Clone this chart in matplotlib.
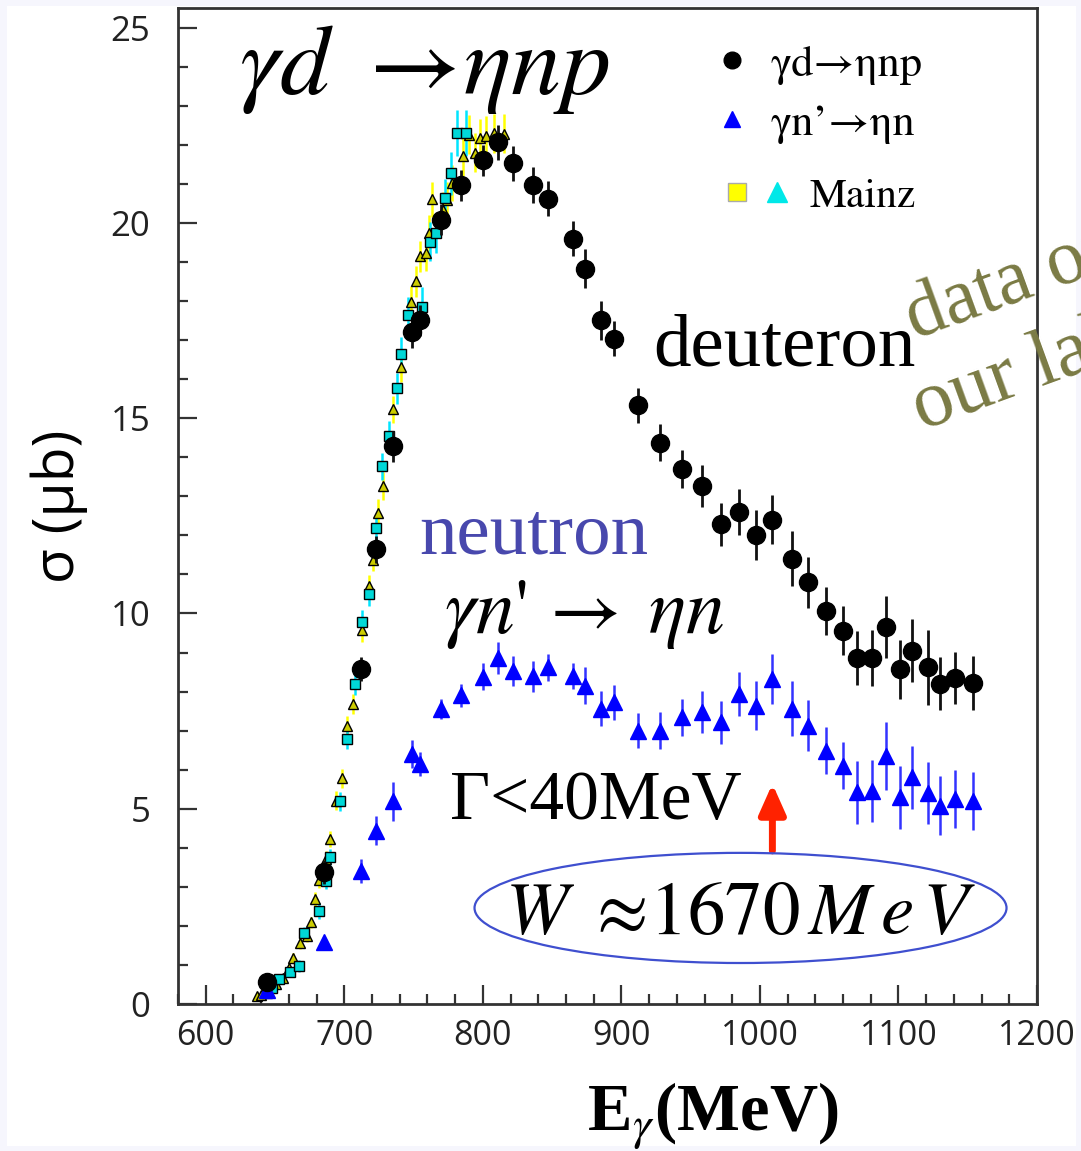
import matplotlib
matplotlib.use("Agg")
import matplotlib.pyplot as plt
from matplotlib.patches import Ellipse, Rectangle
from matplotlib.lines import Line2D
from matplotlib.legend_handler import HandlerTuple
from matplotlib.ticker import MultipleLocator

plt.rcParams['mathtext.fontset'] = 'stix'

# gamma d -> eta n p (black circles)
deut_e = [644, 685, 712, 723, 735, 749, 755, 770, 784, 800, 811, 822, 836, 847, 865, 874, 885, 895,
          912, 928, 944, 958, 972, 985, 997, 1009, 1023, 1035, 1048, 1060, 1070, 1081, 1091, 1101,
          1110, 1121, 1130, 1141, 1154]
deut_sig = [0.57, 3.38, 8.58, 11.64, 14.28, 17.2, 17.51, 20.08, 20.96, 21.6, 22.06, 21.53, 20.97, 20.62,
            19.59, 18.83, 17.51, 17.03, 15.33, 14.37, 13.69, 13.26, 12.28, 12.59, 12.01, 12.40, 11.40,
            10.80, 10.06, 9.56, 8.86, 8.86, 9.65, 8.57, 9.05, 8.62, 8.2, 8.35, 8.22]
deut_err = [0.15, 0.3, 0.3, 0.35, 0.4, 0.4, 0.4, 0.4, 0.4, 0.4, 0.45, 0.45, 0.45, 0.45, 0.45, 0.5, 0.5,
            0.45, 0.45, 0.47, 0.49, 0.53, 0.56, 0.59, 0.64, 0.63, 0.7, 0.65, 0.62, 0.62, 0.68, 0.72,
            0.8, 0.75, 0.81, 0.96, 0.68, 0.66, 0.69]

# gamma n' -> eta n (blue triangles)
neut_e = deut_e
neut_sig = [0.36, 1.6, 3.41, 4.44, 5.19, 6.4, 6.15, 7.56, 7.9, 8.38, 8.86, 8.52, 8.39, 8.62, 8.4, 8.15,
            7.56, 7.73, 7.0, 7.0, 7.34, 7.47, 7.21, 7.94, 7.64, 8.32, 7.56, 7.13, 6.49, 6.1, 5.42, 5.45,
            6.36, 5.29, 5.8, 5.4, 5.08, 5.25, 5.2]
neut_err = [0.1, 0.15, 0.3, 0.38, 0.5, 0.35, 0.3, 0.25, 0.3, 0.35, 0.41, 0.38, 0.4, 0.35, 0.34, 0.47,
            0.45, 0.45, 0.45, 0.47, 0.48, 0.54, 0.56, 0.57, 0.63, 0.63, 0.7, 0.65, 0.6, 0.6, 0.8, 0.8,
            0.87, 0.8, 0.8, 0.8, 0.75, 0.75, 0.75]

# Mainz, triangles
mzt_e = [637, 640, 651, 656, 660, 663, 668, 673, 676, 679, 682, 687, 690, 694, 698, 702, 706, 713,
         718, 721, 724, 728, 735, 741, 748, 752, 755, 759, 761, 763, 771, 774, 778, 786, 790, 794,
         798, 802, 808, 815]
mzt_sig = [0.2, 0.23, 0.5, 0.67, 0.93, 1.19, 1.57, 1.74, 2.09, 2.68, 3.17, 3.71, 4.22, 5.21, 5.78, 7.13,
           7.68, 9.58, 10.69, 11.38, 12.57, 13.26, 15.23, 16.32, 17.98, 18.5, 19.14, 19.22, 19.74,
           20.6, 20.33, 20.59, 21.02, 21.7, 22.26, 21.79, 22.17, 22.23, 22.3, 22.28]
mzt_err = [0.1, 0.1, 0.1, 0.1, 0.12, 0.12, 0.15, 0.15, 0.15, 0.2, 0.2, 0.2, 0.2, 0.25, 0.25, 0.25, 0.25,
           0.3, 0.3, 0.3, 0.35, 0.35, 0.35, 0.4, 0.4, 0.4, 0.4, 0.45, 0.45, 0.45, 0.45, 0.45, 0.45,
           0.5, 0.5, 0.5, 0.5, 0.5, 0.5, 0.5]

# Mainz, squares
mzs_e = [644, 648, 653, 661, 667, 671, 682, 687, 690, 697, 702, 708, 713, 718, 723, 727, 732, 738,
         741, 746, 756, 762, 766, 773, 777, 781, 788]
mzs_sig = [0.29, 0.42, 0.63, 0.83, 0.97, 1.83, 2.38, 3.15, 3.77, 5.19, 6.79, 8.2, 9.78, 10.5, 12.2,
           13.77, 14.54, 15.76, 16.64, 17.64, 17.85, 19.52, 19.74, 20.63, 21.27, 22.3, 22.3]
mzs_err = [0.1, 0.1, 0.12, 0.12, 0.15, 0.15, 0.2, 0.2, 0.2, 0.25, 0.25, 0.3, 0.3, 0.3, 0.35, 0.35,
           0.4, 0.4, 0.45, 0.45, 0.5, 0.5, 0.5, 0.5, 0.55, 0.6, 0.6]

fig = plt.figure(figsize=(10.81, 11.51), dpi=100, facecolor='#f6f6fd')
fig.patches.append(Rectangle((7 / 1081, 5 / 1151), 1 - 12 / 1081, 1 - 11 / 1151,
                             transform=fig.transFigure, facecolor='white', edgecolor='none', zorder=-10))
ax = fig.add_axes([0.1647, 0.1277, 0.7946, 0.8653])

ax.errorbar(mzt_e, mzt_sig, yerr=mzt_err, fmt='^', ms=6.5, mfc='#cccc00', mec='black', mew=1.0,
            ecolor='#ffff00', elinewidth=1.8, capsize=0, zorder=2)
ax.errorbar(mzs_e, mzs_sig, yerr=mzs_err, fmt='s', ms=6.5, mfc='#00d8d8', mec='black', mew=1.0,
            ecolor='#00e5ff', elinewidth=1.8, capsize=0, zorder=2)
ax.errorbar(neut_e, neut_sig, yerr=neut_err, fmt='^', ms=12, color='#0000ff', ecolor='#3333ff',
            elinewidth=1.8, capsize=0, zorder=3)
ax.errorbar(deut_e, deut_sig, yerr=deut_err, fmt='o', ms=13, color='black', ecolor='#111111',
            elinewidth=2.0, capsize=0, zorder=4)

ax.set_xlim(580, 1200)
ax.set_ylim(0, 25.5)
ax.xaxis.set_major_locator(MultipleLocator(100))
ax.xaxis.set_minor_locator(MultipleLocator(20))
ax.yaxis.set_major_locator(MultipleLocator(5))
ax.yaxis.set_minor_locator(MultipleLocator(1))
ax.tick_params(which='both', direction='in', top=False, right=False, color='#333333', width=1.6)
ax.tick_params(which='major', length=14)
ax.tick_params(which='minor', length=7)
ax.tick_params(axis='x', which='major', pad=11)
ax.tick_params(axis='y', which='major', pad=20)
for lab in ax.get_xticklabels():
    lab.set_fontfamily('Open Sans')
    lab.set_fontsize(24.5)
    lab.set_color('#222222')
for lab in ax.get_yticklabels():
    lab.set_fontfamily('Open Sans')
    lab.set_fontsize(25)
    lab.set_color('#222222')
for sp in ax.spines.values():
    sp.set_linewidth(2.0)
    sp.set_color('#333333')

ax.set_ylabel('σ (μb)', family='Open Sans', fontsize=41, labelpad=16)
ax.set_xlabel(r'E$_{\gamma}$(MeV)', family='Liberation Serif', weight='bold', fontsize=48)
ax.xaxis.set_label_coords(0.623, -0.077)

# legend
h_d = Line2D([], [], ls='none', marker='o', ms=12, color='black')
h_n = Line2D([], [], ls='none', marker='^', ms=12, color='#0000ff')
leg1 = ax.legend([h_d, h_n], ['γd→ηnp', 'γn’→ηn'], loc='upper left', bbox_to_anchor=(0.614, 0.963),
                 frameon=False, prop={'family': 'STIXGeneral', 'size': 32},
                 handlelength=1.2, handletextpad=0.26, labelspacing=0.42, borderaxespad=0,
                 borderpad=0)
ax.add_artist(leg1)
h_ys = Line2D([], [], ls='none', marker='s', ms=13, mfc='#ffff00', mec='#aaaaaa', mew=1)
h_ct = Line2D([], [], ls='none', marker='^', ms=14, color='#00e8e8')
ax.legend([(h_ys, h_ct)], ['Mainz'], handler_map={tuple: HandlerTuple(ndivide=None, pad=0.24)},
          loc='upper left', bbox_to_anchor=(0.633, 0.830), frameon=False,
          prop={'family': 'STIXGeneral', 'size': 30}, handlelength=1.68, handletextpad=0.43,
          borderaxespad=0, borderpad=0)

# annotations
ax.text(624, 23.3, r'$\gamma d\ \rightarrow\!\eta np$', fontsize=72)
ax.text(923, 16.36, 'deuteron', family='Liberation Serif', fontsize=54)
ax.text(754, 11.54, 'neutron', family='Liberation Serif', fontsize=54, color='#4848ad')
ax.text(772, 9.51, r"$\gamma n$'$\,\rightarrow\;\eta n$", family='STIXGeneral', fontsize=56)
ax.text(776, 4.74, 'Γ<40MeV', family='Liberation Serif', fontsize=50)
ax.annotate('', xy=(1009, 5.64), xytext=(1009, 3.92),
            arrowprops=dict(arrowstyle='-|>,head_width=0.8,head_length=1.8', color='#ff2200',
                            lw=5, mutation_scale=10, shrinkA=0, shrinkB=0))
ax.add_patch(Ellipse((986, 2.46), 384, 2.82, fill=False, edgecolor='#3f4fcf', lw=1.6, zorder=5))
ax.text(986, 2.33, r'$W\ \approx\! 1670\,M\,e\,V$', fontsize=54, ha='center', va='center')

fig.text(0.846, 0.705, 'data of', family='Liberation Serif', fontsize=56, color='#7a7a44',
         rotation=20, rotation_mode='anchor', ha='left', va='baseline')
fig.text(0.853, 0.626, 'our lab', family='Liberation Serif', fontsize=58, color='#7a7a44',
         rotation=20, rotation_mode='anchor', ha='left', va='baseline')

fig.savefig('out.png', dpi=100, facecolor=fig.get_facecolor())
